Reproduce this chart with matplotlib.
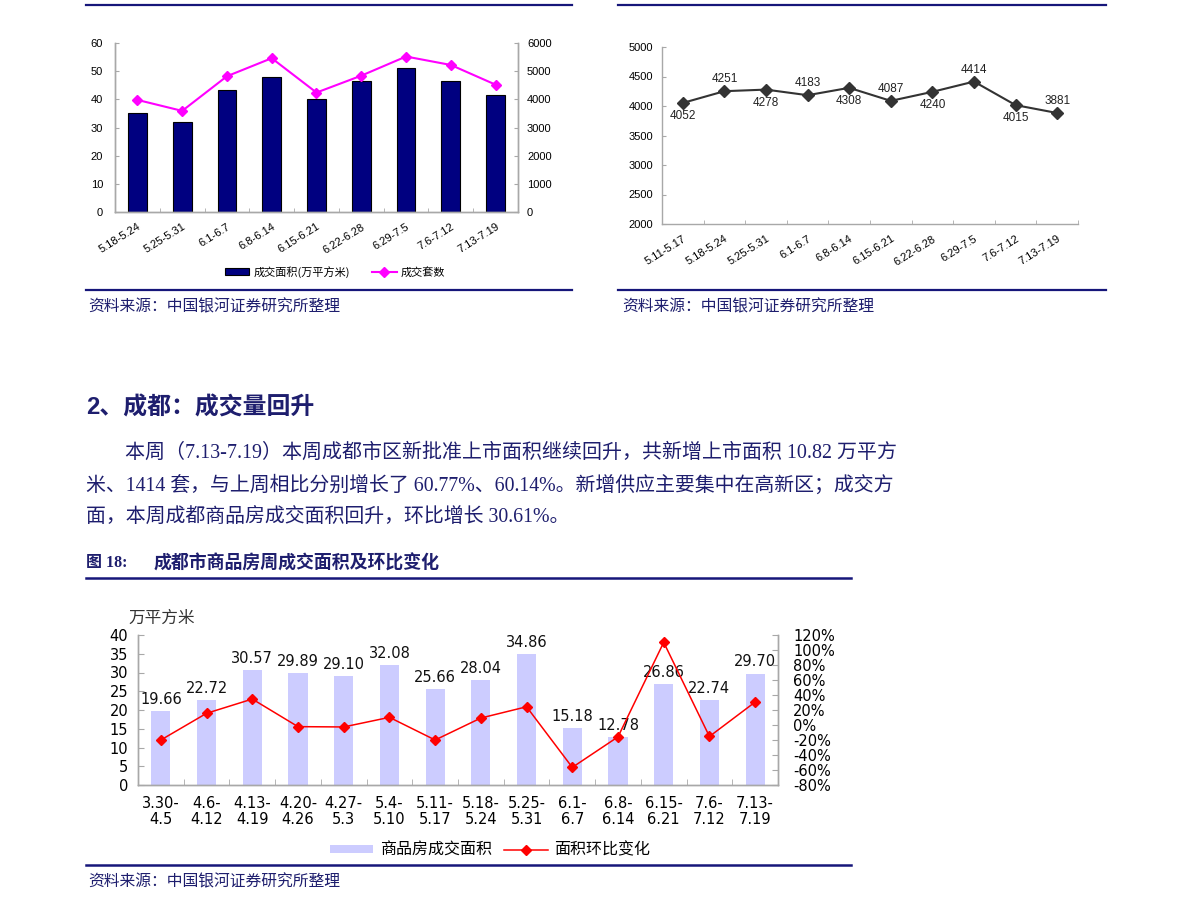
import matplotlib
matplotlib.use('Agg')
import matplotlib.pyplot as plt
from matplotlib.lines import Line2D
from matplotlib.patches import Patch
from matplotlib.ticker import MultipleLocator, FuncFormatter

# ---------------- data ----------------
cats1 = ['5.18-5.24', '5.25-5.31', '6.1-6.7', '6.8-6.14', '6.15-6.21',
         '6.22-6.28', '6.29-7.5', '7.6-7.12', '7.13-7.19']
area1 = [35.0, 31.8, 43.4, 47.9, 40.1, 46.6, 51.1, 46.6, 41.7]
units1 = [3980, 3590, 4820, 5460, 4240, 4840, 5520, 5220, 4520]

cats2 = ['5.11-5.17', '5.18-5.24', '5.25-5.31', '6.1-6.7', '6.8-6.14',
         '6.15-6.21', '6.22-6.28', '6.29-7.5', '7.6-7.12', '7.13-7.19']
vals2 = [4052, 4251, 4278, 4183, 4308, 4087, 4240, 4414, 4015, 3881]

cats3 = ['3.30-\n4.5', '4.6-\n4.12', '4.13-\n4.19', '4.20-\n4.26', '4.27-\n5.3',
         '5.4-\n5.10', '5.11-\n5.17', '5.18-\n5.24', '5.25-\n5.31', '6.1-\n6.7',
         '6.8-\n6.14', '6.15-\n6.21', '7.6-\n7.12', '7.13-\n7.19']
area3 = [19.66, 22.72, 30.57, 29.89, 29.10, 32.08, 25.66, 28.04, 34.86,
         15.18, 12.78, 26.86, 22.74, 29.70]
chg3 = [-20.0, 15.6, 34.6, -2.2, -2.6, 10.2, -20.0, 9.3, 24.3,
        -56.5, -15.8, 110.2, -15.3, 30.6]

legend1 = ['成交面积(万平方米)', '成交套数']
legend3 = ['商品房成交面积', '面积环比变化']
source = '资料来源：中国银河证券研究所整理'
heading = '2、成都：成交量回升'
para = ['本周（7.13-7.19）本周成都市区新批准上市面积继续回升，共新增上市面积 10.82 万平方',
        '米、1414 套，与上周相比分别增长了 60.77%、60.14%。新增供应主要集中在高新区；成交方',
        '面，本周成都商品房成交面积回升，环比增长 30.61%。']
fig_no = '图 18:'
fig_title = '成都市商品房周成交面积及环比变化'
unit3 = '万平方米'

# ---------------- layout helpers ----------------
W, H = 1191, 910
fig = plt.figure(figsize=(W / 100, H / 100), dpi=100)
fig.patch.set_facecolor('white')


def fx(x):
    return x / W


def fy(y):
    return 1 - y / H


def axrect(x0, y0, x1, y1):
    return [fx(x0), fy(y1), (x1 - x0) / W, (y1 - y0) / H]


NAVY = '#16167A'
TXT = '#1E1E6E'
SPINE = '#A8A8A8'
CJK = ['Noto Sans CJK SC', 'DejaVu Sans']
LAT = ['Liberation Sans', 'Noto Sans CJK SC']
SER = ['Liberation Serif', 'Noto Sans CJK SC']
WIDE = ['DejaVu Sans', 'Noto Sans CJK SC']


def hline(x0, x1, y, lw=1.6):
    fig.add_artist(Line2D([fx(x0), fx(x1)], [fy(y), fy(y)], transform=fig.transFigure,
                          color=NAVY, lw=lw))


renderer = fig.canvas.get_renderer()


def fit_text(x0, x1, y, s, size, **kw):
    t = fig.text(fx(x0), fy(y), s, fontsize=size, va='center', ha='left', **kw)
    w = t.get_window_extent(renderer).width
    t.set_fontsize(size * (x1 - x0) / w)
    return t


def style_spines(ax, show):
    for k, sp in ax.spines.items():
        sp.set_visible(k in show)
        sp.set_color(SPINE)
        sp.set_linewidth(1.0)


# ---------------- chart 1 (top-left) ----------------
ax1 = fig.add_axes(axrect(115, 43, 518, 212))
x1 = list(range(len(cats1)))
ax1.bar(x1, area1, width=0.42, color='#000080', edgecolor='black', linewidth=0.8, zorder=2)
ax1.set_xlim(-0.5, len(cats1) - 0.5)
ax1.set_ylim(0, 60)
ax1.yaxis.set_major_locator(MultipleLocator(10))
ax1.set_xticks(x1)
ax1.set_xticklabels(cats1, rotation=32, ha='right', rotation_mode='anchor', family=LAT, fontsize=8)
ax1.set_xticks([i + 0.5 for i in range(len(cats1) - 1)], minor=True)
ax1.tick_params(axis='x', which='major', length=0, pad=7)
ax1.tick_params(axis='x', which='minor', direction='in', length=3, color=SPINE)
ax1.tick_params(axis='y', direction='in', length=3, color=SPINE, pad=8.5, labelsize=8)
for lb in ax1.get_yticklabels():
    lb.set_family(LAT)
style_spines(ax1, ['left', 'bottom', 'right'])

ax1b = ax1.twinx()
ax1b.plot(x1, units1, color='#FF00FF', lw=1.5, marker='D', ms=5, zorder=3)
ax1b.set_ylim(0, 6000)
ax1b.yaxis.set_major_locator(MultipleLocator(1000))
ax1b.tick_params(axis='y', direction='in', length=3, color=SPINE, pad=6.5, labelsize=8)
for lb in ax1b.get_yticklabels():
    lb.set_family(LAT)
style_spines(ax1b, ['left', 'bottom', 'right'])

h1 = [Patch(facecolor='#000080', edgecolor='black', linewidth=0.8),
      Line2D([], [], color='#FF00FF', lw=1.5, marker='D', ms=5)]
fig.legend(h1, legend1, loc='center', bbox_to_anchor=(fx(335), fy(272)), ncol=2,
           frameon=False, prop={'family': CJK, 'size': 8}, handlelength=2.2,
           handleheight=0.6, columnspacing=2.0, handletextpad=0.4)

hline(86, 572, 5)
hline(86, 572, 290)
fit_text(88, 340, 307, source, 11, family=CJK, color=TXT, style='italic')

# ---------------- chart 2 (top-right) ----------------
ax2 = fig.add_axes(axrect(662, 47, 1078, 224))
x2 = list(range(len(cats2)))
ax2.plot(x2, vals2, color='#333333', lw=1.5, marker='D', ms=6, zorder=3)
ax2.set_xlim(-0.5, len(cats2) - 0.5)
ax2.set_ylim(2000, 5000)
ax2.yaxis.set_major_locator(MultipleLocator(500))
ax2.set_xticks(x2)
ax2.set_xticklabels(cats2, rotation=32, ha='right', rotation_mode='anchor', family=LAT, fontsize=8)
ax2.set_xticks([i + 0.5 for i in range(len(cats2))], minor=True)
ax2.tick_params(axis='x', which='major', length=0, pad=7)
ax2.tick_params(axis='x', which='minor', direction='in', length=3, color=SPINE)
ax2.tick_params(axis='y', direction='in', length=3, color=SPINE, pad=6.5, labelsize=8)
for lb in ax2.get_yticklabels():
    lb.set_family(LAT)
style_spines(ax2, ['left', 'bottom'])
for i, v in enumerate(vals2):
    off = -9.5 if i % 2 == 0 else 8.5
    ax2.annotate(str(v), (i, v), xytext=(0, off), textcoords='offset points',
                 ha='center', va='center', fontsize=8.5, family=LAT, color='#222222')

hline(618, 1106, 5)
hline(618, 1106, 290)
fit_text(622, 874, 307, source, 11, family=CJK, color=TXT, style='italic')

# ---------------- text block ----------------
fit_text(86, 315, 408, heading, 14, family=['Liberation Sans', 'Noto Sans CJK SC'],
         weight='bold', color=TXT)
t1 = fit_text(125, 893, 453, para[0], 13, family=SER, color=TXT)
t2 = fit_text(86, 893, 486, para[1], 13, family=SER, color=TXT)
fig.text(fx(86), fy(517), para[2], fontsize=t2.get_fontsize(), family=SER, color=TXT,
         va='center', ha='left')
fig.text(fx(86), fy(563), fig_no, fontsize=11.5, family=['Liberation Serif', 'Noto Sans CJK SC'],
         weight='bold', color=TXT, va='center')
fit_text(154, 440, 563, fig_title, 11, family=CJK, weight='bold', color=TXT)
hline(86, 851, 578, lw=1.8)

# ---------------- chart 3 (bottom) ----------------
ax3 = fig.add_axes(axrect(138, 635, 778, 785))
x3 = list(range(len(cats3)))
ax3.bar(x3, area3, width=0.42, color='#CCCCFF', edgecolor='none', zorder=2)
ax3.set_xlim(-0.5, len(cats3) - 0.5)
ax3.set_ylim(0, 40)
ax3.yaxis.set_major_locator(MultipleLocator(5))
ax3.set_xticks(x3)
ax3.set_xticklabels(cats3, family=WIDE, fontsize=10.5, linespacing=1.05)
ax3.set_xticks([i + 0.5 for i in range(len(cats3) - 1)], minor=True)
ax3.tick_params(axis='x', which='major', length=0, pad=8)
ax3.tick_params(axis='x', which='minor', direction='in', length=4, color=SPINE)
ax3.tick_params(axis='y', direction='in', length=4, color=SPINE, pad=7, labelsize=10.5)
for lb in ax3.get_yticklabels():
    lb.set_family(WIDE)
style_spines(ax3, ['left', 'bottom', 'right'])
for i, v in enumerate(area3):
    ax3.annotate(f'{v:.2f}', (i, v), xytext=(0, 3), textcoords='offset points',
                 ha='center', va='bottom', fontsize=10.5, family=WIDE, color='#111111',
                 zorder=4)

ax3b = ax3.twinx()
ax3b.plot(x3, chg3, color='#FF0000', lw=1.1, marker='D', ms=5, zorder=3)
ax3b.set_ylim(-80, 120)
ax3b.yaxis.set_major_locator(MultipleLocator(20))
ax3b.yaxis.set_major_formatter(FuncFormatter(lambda v, p: f'{v:.0f}%'))
ax3b.tick_params(axis='y', direction='in', length=4, color=SPINE, pad=11, labelsize=10.5)
for lb in ax3b.get_yticklabels():
    lb.set_family(WIDE)
style_spines(ax3b, ['left', 'bottom', 'right'])

fig.text(fx(162), fy(618), unit3, family=CJK, fontsize=12, color='#333333',
         ha='center', va='center')

h3 = [Patch(facecolor='#CCCCFF', edgecolor='none'),
      Line2D([], [], color='#FF0000', lw=1.1, marker='D', ms=5)]
fig.legend(h3, legend3, loc='center', bbox_to_anchor=(fx(490), fy(850)), ncol=2,
           frameon=False, prop={'family': CJK, 'size': 11.5}, handlelength=2.7,
           handleheight=0.45, columnspacing=0.8, handletextpad=0.4)

hline(86, 851, 865, lw=1.8)
fit_text(88, 340, 882, source, 11, family=CJK, color=TXT, style='italic')

fig.savefig('out.png', dpi=100, facecolor='white')
